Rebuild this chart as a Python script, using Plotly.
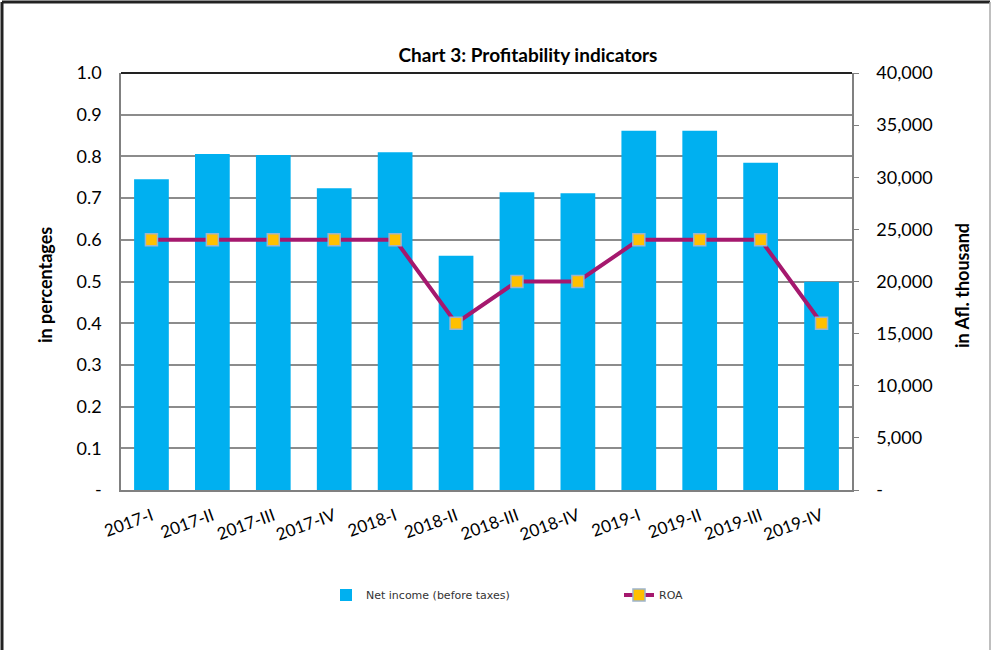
import plotly.graph_objects as go

categories = ["2017-I", "2017-II", "2017-III", "2017-IV", "2018-I", "2018-II",
              "2018-III", "2018-IV", "2019-I", "2019-II", "2019-III", "2019-IV"]
net_income = [29800, 32230, 32130, 28940, 32390, 22480, 28560, 28460, 34470, 34470, 31400, 19980]
roa = [0.6, 0.6, 0.6, 0.6, 0.6, 0.4, 0.5, 0.5, 0.6, 0.6, 0.6, 0.4]

left_tickvals = [0, 0.1, 0.2, 0.3, 0.4, 0.5, 0.6, 0.7, 0.8, 0.9, 1.0]
left_ticktext = ["-", "0.1", "0.2", "0.3", "0.4", "0.5", "0.6", "0.7", "0.8", "0.9", "1.0"]
right_tickvals = [0, 5000, 10000, 15000, 20000, 25000, 30000, 35000, 40000]
right_ticktext = ["-", "5,000", "10,000", "15,000", "20,000", "25,000", "30,000", "35,000", "40,000"]

FONT = "Lato"

fig = go.Figure()
fig.add_trace(go.Bar(
    x=categories, y=net_income, yaxis="y", name="Net income (before taxes)",
    marker=dict(color="#00B0F0", line=dict(width=0)), width=0.57,
))
fig.add_trace(go.Scatter(
    x=categories, y=roa, yaxis="y2", name="ROA", mode="lines+markers",
    line=dict(color="#A5186E", width=4),
    marker=dict(symbol="square", size=12, color="#FFC000",
                line=dict(color="#9DB4CC", width=1.5)),
))

W, H = 991, 650
L, R, T, B = 121, 852, 73, 490
pw, ph = R - L, B - T

def px(x):
    return (x - L) / pw

def py(y):
    return (B - y) / ph

fig.update_layout(
    width=W, height=H,
    margin=dict(l=L, r=W - R, t=T, b=H - B),
    paper_bgcolor="white", plot_bgcolor="white",
    font=dict(family=FONT, size=18, color="#000000"),
    title=dict(text="<b>Chart 3: Profitability indicators</b>", x=528 / W, xanchor="center",
               y=1 - 55 / H, yanchor="middle", font=dict(family=FONT, size=19)),
    showlegend=True,
    legend=dict(orientation="h", x=px(326), xanchor="left", y=py(595), yanchor="middle",
                font=dict(family="DejaVu Sans", size=11, color="#333333"),
                entrywidth=248, entrywidthmode="pixels", bgcolor="rgba(0,0,0,0)"),
    xaxis=dict(range=[-0.5, len(categories) - 0.5], tickangle=-20, showline=True,
               linecolor="#808080", linewidth=1.5,
               showgrid=False, ticks="", tickfont=dict(family=FONT, size=17),
               ticklabelstandoff=8),
    yaxis=dict(side="right", range=[0, 40000], tickvals=right_tickvals, ticktext=right_ticktext,
               showgrid=False, zeroline=False, showline=True, linecolor="#808080", linewidth=1.5,
               ticks="outside", ticklen=5, tickcolor="#808080", tickfont=dict(family=FONT, size=18),
               ticklabelstandoff=14),
    yaxis2=dict(side="left", overlaying="y", range=[0, 1.0], tickvals=left_tickvals,
                ticktext=left_ticktext, showgrid=True, gridcolor="#8C8C8C", gridwidth=1.5,
                zeroline=False, showline=True, linecolor="#808080", linewidth=1.5,
                ticks="", tickfont=dict(family=FONT, size=18), ticklabelstandoff=14),
)

fig.add_annotation(text="<b>in percentages</b>", xref="paper", yref="paper", x=px(45), y=py(285),
                   xanchor="center", yanchor="middle",
                   textangle=-90, showarrow=False, font=dict(family=FONT, size=18))
fig.add_annotation(text="<b>in Afl. thousand</b>", xref="paper", yref="paper", x=px(962), y=py(285),
                   xanchor="center", yanchor="middle",
                   textangle=-90, showarrow=False, font=dict(family=FONT, size=18))

# plot-area top border and outer frame
fig.add_shape(type="line", xref="paper", yref="paper", x0=0, x1=1, y0=1, y1=1,
              line=dict(color="#222222", width=2))
fig.add_shape(type="line", xref="paper", yref="paper", x0=px(2), x1=px(990), y0=py(2), y1=py(2),
              line=dict(color="#222222", width=3))
fig.add_shape(type="line", xref="paper", yref="paper", x0=px(2), x1=px(2), y0=py(2), y1=py(650),
              line=dict(color="#222222", width=3))
fig.add_shape(type="line", xref="paper", yref="paper", x0=px(990), x1=px(990), y0=py(2), y1=py(650),
              line=dict(color="#AAAAAA", width=1.5))

fig.write_html("out.html", config={"displayModeBar": False},
               post_script="document.body.style.margin='0';document.body.style.padding='0';")
